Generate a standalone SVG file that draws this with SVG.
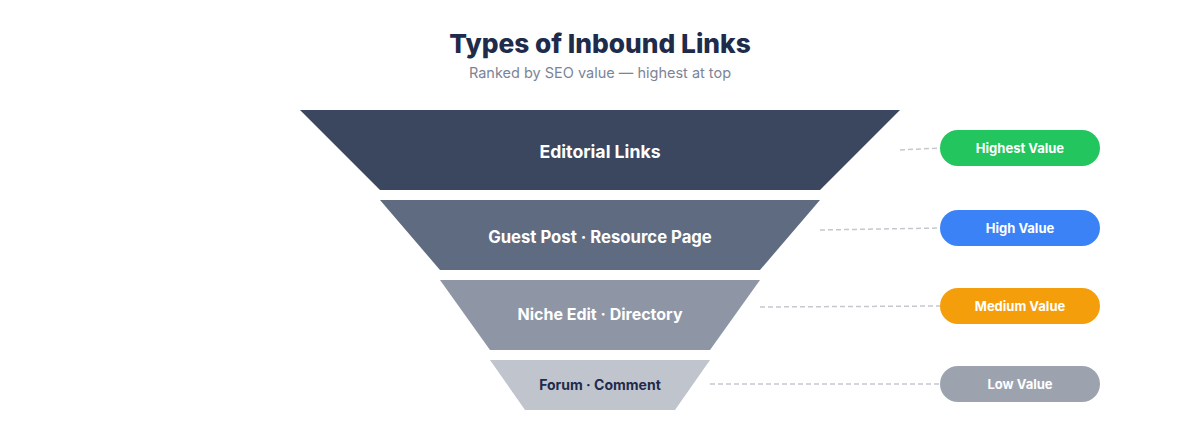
<svg xmlns="http://www.w3.org/2000/svg" width="1200" height="444" viewBox="0 0 1200 444">
<style>
text{font-family:Inter,"Liberation Sans",sans-serif;text-anchor:middle;}
.title{font-size:26.3px;font-weight:800;fill:#1e2b4b;}
.sub{font-size:14.5px;fill:#7b8497;}
.tl{font-weight:700;fill:#ffffff;}
.pill text{font-size:13px;font-weight:700;fill:#ffffff;}
.conn{stroke:#c6c8ce;stroke-width:1.5;stroke-dasharray:5 3;fill:none;}
</style>
<rect width="1200" height="444" fill="#ffffff"/>
<text class="title" x="600" y="53">Types of Inbound Links</text>
<text class="sub" x="600" y="78">Ranked by SEO value — highest at top</text>
<g id="connectors">
<line class="conn" x1="900" y1="150" x2="940" y2="148"/>
<line class="conn" x1="820" y1="230" x2="940" y2="228"/>
<line class="conn" x1="760" y1="307" x2="940" y2="306"/>
<line class="conn" x1="710" y1="384" x2="940" y2="384"/>
</g>
<g id="tier1">
<polygon points="300,110 900,110 820,190 380,190" fill="#3a475f"/>
<text class="tl" x="600" y="158" font-size="17.7">Editorial Links</text>
</g>
<g id="tier2">
<polygon points="380,200 820,200 760,270 440,270" fill="#5f6b80"/>
<text class="tl" x="600" y="243" font-size="16.7">Guest Post · Resource Page</text>
</g>
<g id="tier3">
<polygon points="440,280 760,280 710,350 490,350" fill="#8e95a5"/>
<text class="tl" x="600" y="320" font-size="16">Niche Edit · Directory</text>
</g>
<g id="tier4">
<polygon points="490,360 710,360 675,410 525,410" fill="#c0c4cc"/>
<text x="600" y="390" font-size="14" font-weight="700" fill="#1e2b4b">Forum · Comment</text>
</g>
<g id="pill1" class="pill">
<rect x="940" y="130" width="160" height="36" rx="18" fill="#22c55e"/>
<text x="1020" y="153">Highest Value</text>
</g>
<g id="pill2" class="pill">
<rect x="940" y="210" width="160" height="36" rx="18" fill="#3b82f6"/>
<text x="1020" y="233">High Value</text>
</g>
<g id="pill3" class="pill">
<rect x="940" y="288" width="160" height="36" rx="18" fill="#f59e0b"/>
<text x="1020" y="311">Medium Value</text>
</g>
<g id="pill4" class="pill">
<rect x="940" y="366" width="160" height="36" rx="18" fill="#9ca3af"/>
<text x="1020" y="389">Low Value</text>
</g>
</svg>
